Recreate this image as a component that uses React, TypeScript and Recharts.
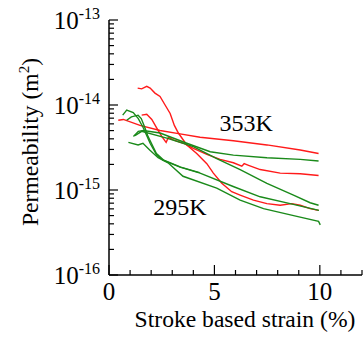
import React from 'react';
import { LineChart, Line, XAxis, YAxis, ReferenceDot } from 'recharts';

// Red series (353K / 295K red curves)
const redSteep = [
  { x: 1.36, y: 1.58e-14 }, { x: 1.55, y: 1.55e-14 }, { x: 1.79, y: 1.66e-14 }, { x: 1.95, y: 1.58e-14 },
  { x: 2.18, y: 1.38e-14 }, { x: 2.42, y: 1.26e-14 }, { x: 2.66, y: 1.0e-14 }, { x: 2.9, y: 7.94e-15 },
  { x: 3.1, y: 5.75e-15 }, { x: 3.29, y: 4.68e-15 }, { x: 3.69, y: 3.39e-15 }, { x: 4.16, y: 2.69e-15 },
  { x: 4.64, y: 2.04e-15 }, { x: 4.95, y: 1.58e-15 }, { x: 5.35, y: 1.2e-15 }, { x: 5.82, y: 9.55e-16 },
  { x: 6.22, y: 8.71e-16 }, { x: 6.85, y: 7.59e-16 }, { x: 7.49, y: 6.92e-16 }, { x: 8.12, y: 6.61e-16 },
  { x: 8.67, y: 6.92e-16 }, { x: 9.07, y: 6.61e-16 }, { x: 9.54, y: 6.03e-16 }, { x: 9.94, y: 5.75e-16 },
];
const redFlat = [
  { x: 0.44, y: 6.61e-15 }, { x: 0.68, y: 6.76e-15 }, { x: 1.47, y: 5.75e-15 }, { x: 2.42, y: 5.01e-15 },
  { x: 3.37, y: 4.57e-15 }, { x: 4.32, y: 4.17e-15 }, { x: 5.9, y: 3.8e-15 }, { x: 7.49, y: 3.39e-15 },
  { x: 9.07, y: 2.95e-15 }, { x: 9.94, y: 2.69e-15 },
];
const redMid = [
  { x: 1.55, y: 7.59e-15 }, { x: 1.79, y: 7.76e-15 }, { x: 2.03, y: 6.76e-15 }, { x: 2.26, y: 5.37e-15 },
  { x: 2.5, y: 4.27e-15 }, { x: 2.71, y: 3.63e-15 }, { x: 2.82, y: 4.17e-15 }, { x: 3.05, y: 3.89e-15 },
  { x: 3.53, y: 3.55e-15 }, { x: 4.0, y: 3.09e-15 }, { x: 4.64, y: 2.63e-15 }, { x: 5.27, y: 2.29e-15 },
  { x: 5.9, y: 2.09e-15 }, { x: 6.3, y: 1.91e-15 }, { x: 6.41, y: 2.04e-15 }, { x: 6.62, y: 1.95e-15 },
  { x: 7.17, y: 1.74e-15 }, { x: 8.12, y: 1.58e-15 }, { x: 9.07, y: 1.55e-15 }, { x: 9.94, y: 1.48e-15 },
];

// Green series
const greenFlat = [
  { x: 1.16, y: 4.27e-15 }, { x: 1.39, y: 4.9e-15 }, { x: 1.63, y: 5.01e-15 }, { x: 2.42, y: 4.68e-15 },
  { x: 3.69, y: 3.55e-15 }, { x: 4.8, y: 2.82e-15 }, { x: 5.9, y: 2.57e-15 }, { x: 7.49, y: 2.4e-15 },
  { x: 9.07, y: 2.29e-15 }, { x: 9.94, y: 2.19e-15 },
];
const greenMid = [
  { x: 1.23, y: 4.37e-15 }, { x: 1.55, y: 4.9e-15 }, { x: 2.74, y: 4.07e-15 }, { x: 4.0, y: 3.24e-15 },
  { x: 5.11, y: 2.34e-15 }, { x: 6.22, y: 1.74e-15 }, { x: 7.49, y: 1.2e-15 }, { x: 8.75, y: 8.71e-16 },
  { x: 9.54, y: 7.08e-16 }, { x: 9.94, y: 6.61e-16 },
];
const greenPeak = [
  { x: 0.65, y: 7.59e-15 }, { x: 0.84, y: 8.71e-15 }, { x: 1.15, y: 8.13e-15 }, { x: 1.39, y: 6.92e-15 },
  { x: 1.63, y: 5.37e-15 }, { x: 1.95, y: 3.55e-15 }, { x: 2.26, y: 2.57e-15 }, { x: 2.56, y: 2.24e-15 },
  { x: 3.37, y: 1.86e-15 }, { x: 4.32, y: 1.58e-15 }, { x: 5.89, y: 1.1e-15 }, { x: 7.17, y: 8.32e-16 },
  { x: 8.59, y: 6.92e-16 }, { x: 9.96, y: 5.75e-16 },
];
const greenSecond = [
  { x: 0.84, y: 6.61e-15 }, { x: 1.06, y: 7.24e-15 }, { x: 1.38, y: 7.59e-15 }, { x: 1.53, y: 6.92e-15 },
  { x: 1.69, y: 5.5e-15 }, { x: 1.85, y: 4.27e-15 }, { x: 2.01, y: 3.55e-15 }, { x: 2.25, y: 2.69e-15 },
  { x: 2.6, y: 2.24e-15 }, { x: 3.4, y: 1.86e-15 }, { x: 4.3, y: 1.6e-15 },
];
const greenLow = [
  { x: 0.92, y: 3.63e-15 }, { x: 1.38, y: 3.39e-15 }, { x: 1.61, y: 3.55e-15 }, { x: 1.93, y: 2.95e-15 },
  { x: 2.33, y: 2.4e-15 }, { x: 2.8, y: 2.09e-15 }, { x: 3.51, y: 1.45e-15 }, { x: 5.11, y: 1.05e-15 },
  { x: 6.22, y: 7.59e-16 }, { x: 7.33, y: 6.03e-16 }, { x: 8.91, y: 4.9e-16 }, { x: 9.94, y: 4.27e-16 },
  { x: 10.02, y: 3.89e-16 },
];

const xTicks = [0, 1, 2, 3, 4, 5, 6, 7, 8, 9, 10, 11, 12];
const xLabels = [0, 5, 10];
const yTicks = [
  1e-16, 2e-16, 3e-16, 4e-16, 5e-16, 6e-16, 7e-16, 8e-16, 9e-16,
  1e-15, 2e-15, 3e-15, 4e-15, 5e-15, 6e-15, 7e-15, 8e-15, 9e-15,
  1e-14, 2e-14, 3e-14, 4e-14, 5e-14, 6e-14, 7e-14, 8e-14, 9e-14,
  1e-13,
];

const FONT = 'Liberation Serif, serif';
const TXT = { fontFamily: FONT };
const RED = '#ff1a1a';
const GREEN = '#1a8a1a';

const isDecade = (v: number) => {
  const l = Math.log10(v);
  return Math.abs(l - Math.round(l)) < 1e-6;
};

const LeftTick = (props: any) => {
  const { x, y, payload } = props;
  const v = payload.value;
  const major = isDecade(v);
  const len = major ? 9 : 5;
  return (
    <g>
      <line x1={x} x2={x + len} y1={y} y2={y} stroke="#000" strokeWidth={1.2} />
      {major && (
        <text x={x - 9} y={y + 8.5} textAnchor="end" style={TXT} fontSize={25} fill="#000">
          <tspan>10</tspan>
          <tspan dy={-10} fontSize={16}>{String(Math.round(Math.log10(v)))}</tspan>
        </text>
      )}
    </g>
  );
};

const RightTick = (props: any) => {
  const { x, y, payload } = props;
  const len = isDecade(payload.value) ? 9 : 5;
  return <line x1={x} x2={x - len} y1={y} y2={y} stroke="#000" strokeWidth={1.2} />;
};

const BottomTick = (props: any) => {
  const { x, y, payload } = props;
  const v = payload.value;
  const major = v % 5 === 0;
  const len = major ? 10 : 5;
  return (
    <g>
      <line x1={x} x2={x} y1={y} y2={y - len} stroke="#000" strokeWidth={1.2} />
      {xLabels.includes(v) && (
        <text x={x} y={y + 25} textAnchor="middle" style={TXT} fontSize={25} fill="#000">
          {String(v)}
        </text>
      )}
    </g>
  );
};

const TopTick = (props: any) => {
  const { x, y, payload } = props;
  const len = payload.value % 5 === 0 ? 10 : 5;
  return <line x1={x} x2={x} y1={y} y2={y + len} stroke="#000" strokeWidth={1.2} />;
};

const axisLine = { stroke: '#000', strokeWidth: 1.5 };

const tempLabel = (txt: string) => (p: any) => (
  <text x={p.cx} y={p.cy} textAnchor="start" style={TXT} fontSize={24} fill="#000">
    {txt}
  </text>
);

const series = [
  { d: redFlat, c: RED },
  { d: redMid, c: RED },
  { d: redSteep, c: RED },
  { d: greenFlat, c: GREEN },
  { d: greenMid, c: GREEN },
  { d: greenPeak, c: GREEN },
  { d: greenSecond, c: GREEN },
  { d: greenLow, c: GREEN },
];

export default function App() {
  return (
    <div style={{ position: 'absolute', left: 0, top: 0, fontFamily: FONT }}>
      <LineChart width={363} height={337} margin={{ top: 20, right: 1, bottom: 0, left: 0 }} style={TXT}>
        <XAxis
          xAxisId="bottom"
          type="number"
          dataKey="x"
          domain={[0, 12]}
          allowDataOverflow
          ticks={xTicks}
          interval={0}
          height={62}
          tickSize={0}
          tickMargin={0}
          tickLine={false}
          axisLine={axisLine}
          tick={<BottomTick />}
          label={{
            content: (p: any) => {
              const vb = p.viewBox;
              return (
                <text x={vb.x + vb.width / 2 + 9.5} y={327} textAnchor="middle" style={TXT} fontSize={23.6} fill="#000">
                  Stroke based strain (%)
                </text>
              );
            },
          }}
        />
        <XAxis
          xAxisId="top"
          orientation="top"
          type="number"
          dataKey="x"
          domain={[0, 12]}
          allowDataOverflow
          ticks={xTicks}
          interval={0}
          height={0}
          tickSize={0}
          tickMargin={0}
          tickLine={false}
          axisLine={axisLine}
          tick={<TopTick />}
        />
        <YAxis
          yAxisId="left"
          scale="log"
          type="number"
          dataKey="y"
          domain={[1e-16, 1e-13]}
          allowDataOverflow
          ticks={yTicks}
          interval={0}
          width={109}
          tickSize={0}
          tickMargin={0}
          tickLine={false}
          axisLine={axisLine}
          tick={<LeftTick />}
          label={{
            content: () => (
              <text
                x={38}
                y={142}
                textAnchor="middle"
                transform="rotate(-90, 38, 142)"
                style={TXT}
                fontSize={23.6}
                fill="#000"
              >
                <tspan>Permeability (m</tspan>
                <tspan dy={-9} fontSize={15}>2</tspan>
                <tspan dy={9}>)</tspan>
              </text>
            ),
          }}
        />
        <YAxis
          yAxisId="right"
          orientation="right"
          scale="log"
          type="number"
          dataKey="y"
          domain={[1e-16, 1e-13]}
          allowDataOverflow
          ticks={yTicks}
          interval={0}
          width={0}
          tickSize={0}
          tickMargin={0}
          tickLine={false}
          axisLine={axisLine}
          tick={<RightTick />}
        />
        {series.map((s, i) => (
          <Line
            key={i}
            xAxisId="bottom"
            yAxisId="left"
            data={s.d}
            dataKey="y"
            type="linear"
            stroke={s.c}
            strokeWidth={1.4}
            dot={false}
            isAnimationActive={false}
          />
        ))}
        <ReferenceDot xAxisId="bottom" yAxisId="left" x={5.24} y={4.9e-15} r={0} shape={tempLabel('353K')} />
        <ReferenceDot xAxisId="bottom" yAxisId="left" x={2.1} y={5.13e-16} r={0} shape={tempLabel('295K')} />
      </LineChart>
    </div>
  );
}
